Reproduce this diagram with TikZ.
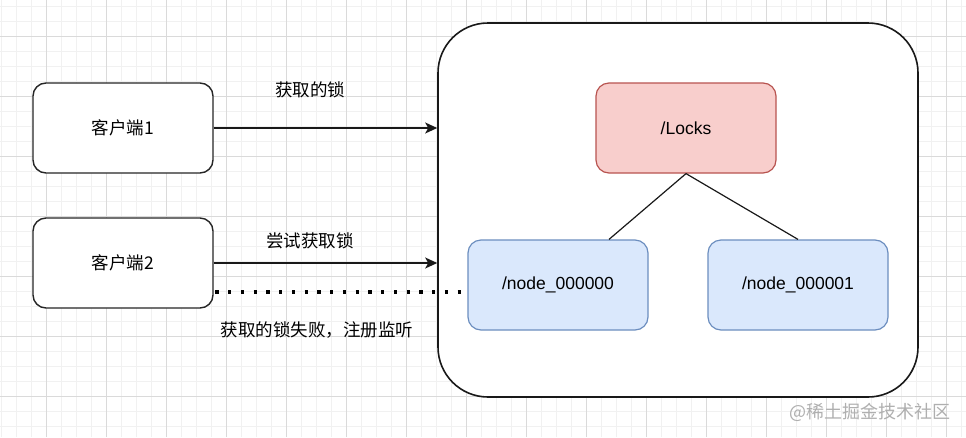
\documentclass[tikz,border=0pt]{standalone}
\usepackage{fontspec}
\setmainfont{Liberation Sans}
\newfontfamily\cjk{Noto Sans CJK SC}
\usetikzlibrary{arrows.meta,calc}
\definecolor{minorgrid}{RGB}{241,241,241}
\definecolor{majorgrid}{RGB}{218,218,218}
\definecolor{redfill}{HTML}{F8CECC}
\definecolor{redline}{HTML}{B85450}
\definecolor{bluefill}{HTML}{DAE8FC}
\definecolor{blueline}{HTML}{6C8EBF}
\definecolor{wmgray}{RGB}{175,175,175}
\tikzset{
  txt/.style={font=\fontsize{17.5}{21}\selectfont},
  clientbox/.style={draw=black!85, line width=1.4pt, fill=white, rounded corners=13pt,
    minimum width=180pt, minimum height=90pt, txt},
  lockbox/.style={draw=redline, line width=1.2pt, fill=redfill, rounded corners=13pt,
    minimum width=180pt, minimum height=90pt, txt},
  seqbox/.style={draw=blueline, line width=1.2pt, fill=bluefill, rounded corners=13pt,
    minimum width=180pt, minimum height=90pt, txt},
  container/.style={draw=black!90, line width=1.6pt, fill=white, rounded corners=50pt,
    minimum width=480pt, minimum height=374pt},
  arrowline/.style={line width=1.5pt, draw=black!90, -{Stealth[length=12pt,width=11pt,inset=3pt]}},
  treeline/.style={line width=1.2pt, draw=black!90},
  dotline/.style={line width=3.2pt, draw=black, dash pattern=on 3.2pt off 9.55pt, dash phase=-1.6pt},
  lbl/.style={font=\cjk\fontsize{17.5}{21}\selectfont, inner sep=0pt}
}
\begin{document}
\begin{tikzpicture}[x=1pt,y=-1pt]
\useasboundingbox (0,0) rectangle (966,437);
\fill[white] (0,0) rectangle (966,437);
% grid
\foreach \x in {1,16,...,966} \draw[minorgrid, line width=0.8pt] (\x,0) -- (\x,437);
\foreach \y in {6,21,...,437} \draw[minorgrid, line width=0.8pt] (0,\y) -- (966,\y);
\foreach \x in {46,106,...,966} \draw[majorgrid, line width=0.9pt] (\x,0) -- (\x,437);
\foreach \y in {36,96,...,437} \draw[majorgrid, line width=0.9pt] (0,\y) -- (966,\y);

% container
\node[container] (cont) at (678,210) {};

% nodes
\node[clientbox] (c1) at (123,128) {\cjk 客户端1};
\node[clientbox] (c2) at (123,263) {\cjk 客户端2};
\node[lockbox] (locks) at (686,128) {/Locks};
\node[seqbox] (n0) at (558,285) {/node\_000000};
\node[seqbox] (n1) at (798,285) {/node\_000001};

% tree lines
\draw[treeline] (locks.south) -- ($(n0.north)+(51,0)$);
\draw[treeline] (locks.south) -- (n1.north);

% arrows
\draw[arrowline] (c1.east) -- (c1.east -| cont.west);
\draw[arrowline] (c2.east) -- (c2.east -| cont.west);
\coordinate (dstart) at ($(c2.east)+(0,29)$);
\draw[dotline] (dstart) -- (dstart -| n0.west);

% labels
\node[lbl] (l1) at (310,90) {获取的锁};
\node[lbl] (l2) at (310,241) {尝试获取锁};
\node[lbl] (l3) at (317,330) {获取的锁失败，注册监听};

% watermark
\node[font=\cjk\fontsize{18}{21}\selectfont, text=wmgray, inner sep=0pt] (wm) at (870,412) {@稀土掘金技术社区};
\end{tikzpicture}
\end{document}
